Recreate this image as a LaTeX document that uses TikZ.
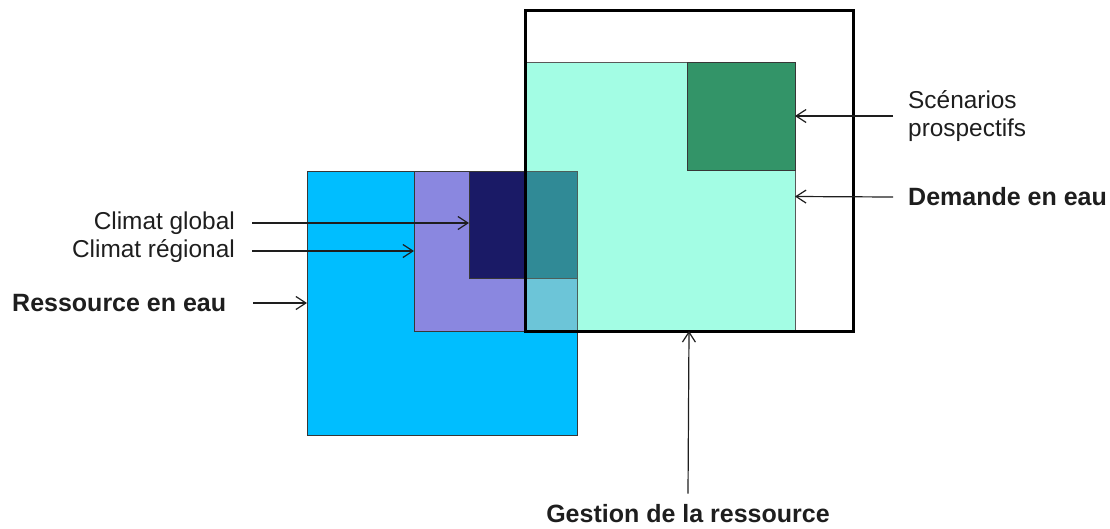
\documentclass[tikz,border=0pt]{standalone}
\usepackage{fontspec}
\setmainfont{Liberation Sans}
\usetikzlibrary{arrows.meta}
\definecolor{cblue}{RGB}{0,190,255}
\definecolor{cpurple}{RGB}{138,135,224}
\definecolor{cnavy}{RGB}{26,26,102}
\definecolor{cmint}{RGB}{163,253,228}
\definecolor{cgreen}{RGB}{51,148,104}
\definecolor{ctealdark}{RGB}{48,138,150}
\definecolor{ctealight}{RGB}{108,197,216}
\definecolor{cedge}{RGB}{55,55,55}
\definecolor{ctext}{RGB}{30,30,30}
\tikzset{
  box/.style={draw=cedge, line width=0.9pt, inner sep=0pt, outer sep=0pt},
  lbl/.style={font=\fontsize{24.4}{28}\selectfont, text=ctext, inner sep=0pt},
  blbl/.style={lbl, font=\fontsize{25}{28}\selectfont\bfseries},
  arr/.style={draw=ctext, line width=1.2pt, -{Straight Barb[length=10pt,width=13pt]}},
}
\begin{document}
\begin{tikzpicture}[x=1pt,y=-1pt]
\useasboundingbox (0,0) rectangle (1110,528);
% Ressource en eau
\node[box, fill=cblue, minimum width=270pt, minimum height=264pt, anchor=north west] (res) at (307,171) {};
% Climat regional
\node[box, fill=cpurple, minimum width=163pt, minimum height=160pt, anchor=north west] (reg) at (414,171) {};
% Climat global
\node[box, fill=cnavy, minimum width=108pt, minimum height=107pt, anchor=north west] (glob) at (469,171) {};
% Demande en eau
\node[box, draw=gray!70!black, line width=0.7pt, fill=cmint, minimum width=270pt, minimum height=269pt, anchor=north west] (dem) at (525,62) {};
% overlap patches
\fill[ctealdark] (525,171) rectangle (577,278);
\fill[ctealight] (525,278) rectangle (577,331);
\draw[cedge!80!cmint, line width=0.8pt] (525,171) -- (577,171) -- (577,331);
\draw[cedge!80!cmint, line width=0.8pt] (525,278) -- (577,278);
% Scenarios prospectifs
\node[box, fill=cgreen, minimum width=108pt, minimum height=108pt, anchor=north west] (scen) at (687,62) {};
% Gestion frame
\node[draw=black, line width=3pt, inner sep=0pt, outer sep=0pt, minimum width=328pt, minimum height=321pt, anchor=north west] (gest) at (525,10) {};
% labels
\node[lbl, anchor=east] (tglob) at (235,223) {Climat global};
\node[lbl, anchor=east] (treg) at (235,251) {Climat régional};
\node[blbl, anchor=west] (tres) at (12,303) {Ressource en eau};
\node[lbl, anchor=west, align=left] (tscen) at (908,116) {Scénarios\\prospectifs};
\node[blbl, anchor=west] (tdem) at (908,197) {Demande en eau};
\node[blbl, anchor=center] (tgest) at (688,514) {Gestion de la ressource};
% arrows
\draw[arr] ([xshift=17pt]tglob.east) -- (tglob.east -| glob.west);
\draw[arr] ([xshift=17pt]treg.east) -- (reg.west);
\draw[arr] ([xshift=27pt]tres.east) -- (res.west);
\draw[arr] ([xshift=-15pt]tscen.west) -- (scen.east);
\draw[arr] ([xshift=-15pt]tdem.west) -- (dem.east);
\draw[arr] ([yshift=11pt]tgest.north) -- (gest.south);
\end{tikzpicture}
\end{document}
